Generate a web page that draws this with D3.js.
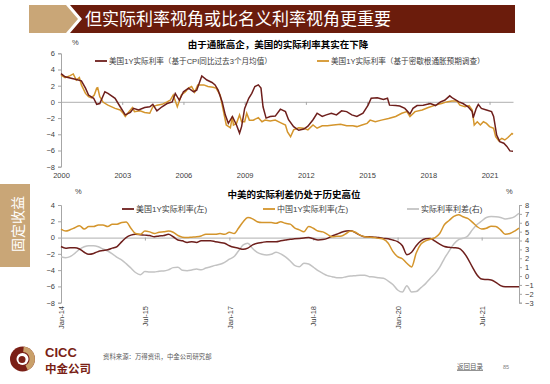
<!DOCTYPE html>
<html>
<head>
<meta charset="utf-8">
<script src="https://cdn.jsdelivr.net/npm/d3@7"></script>
<style>
body{margin:0;background:#fff}
svg{display:block}
text{font-family:"Liberation Sans","Noto Sans CJK SC",sans-serif}
</style>
</head>
<body>
<svg id="chart" width="550" height="384"></svg>
<script>
// 上图：美国1Y实际利率，[年份, %]
const usCpiReal = [[2000.0,3.5],[2000.2,3.1],[2000.7,2.8],[2001.0,2.6],[2001.2,1.7],[2001.35,0.85],[2001.6,0.45],[2001.75,-0.3],[2001.9,-0.2],[2002.15,1.25],[2002.3,1.05],[2002.65,0.45],[2002.9,-0.6],[2003.15,-1.6],[2003.4,-1.3],[2003.55,-0.8],[2003.8,-1.0],[2004.1,-0.7],[2004.35,-0.6],[2004.5,-0.3],[2004.7,-1.1],[2004.95,-0.6],[2005.2,-0.2],[2005.45,0.0],[2005.6,1.05],[2005.8,0.2],[2006.0,1.25],[2006.25,1.7],[2006.5,1.25],[2006.65,1.45],[2006.9,3.2],[2007.15,2.7],[2007.4,2.4],[2007.55,2.1],[2007.7,1.45],[2007.9,0.0],[2008.05,-1.6],[2008.2,-2.65],[2008.4,-1.8],[2008.6,-2.85],[2008.75,-3.85],[2008.85,-3.05],[2009.0,-0.8],[2009.2,0.45],[2009.35,1.05],[2009.5,1.9],[2009.67,2.1],[2009.8,1.7],[2009.9,-0.6],[2010.05,-2.0],[2010.25,-1.8],[2010.5,-1.75],[2010.75,-0.9],[2011.0,-1.2],[2011.15,-2.2],[2011.4,-3.05],[2011.65,-3.5],[2011.9,-3.35],[2012.1,-3.0],[2012.35,-2.2],[2012.55,-1.4],[2012.8,-1.8],[2013.0,-1.6],[2013.25,-1.4],[2013.5,-1.6],[2013.75,-1.1],[2014.0,-1.2],[2014.25,-1.6],[2014.5,-1.8],[2014.8,-1.4],[2015.05,-0.4],[2015.2,0.45],[2015.5,0.5],[2015.8,0.3],[2016.0,0.45],[2016.1,-0.4],[2016.4,-0.45],[2016.6,-0.5],[2016.85,-0.8],[2017.1,-1.5],[2017.25,-0.8],[2017.45,-0.45],[2017.75,-0.4],[2018.1,-0.2],[2018.35,-0.45],[2018.6,0.0],[2018.8,0.2],[2019.05,0.75],[2019.2,0.45],[2019.5,0.0],[2019.7,-0.2],[2019.95,-0.6],[2020.15,-1.2],[2020.2,-1.95],[2020.35,-0.8],[2020.45,-0.3],[2020.6,-0.8],[2020.85,-1.0],[2021.1,-1.2],[2021.2,-1.8],[2021.35,-4.1],[2021.5,-4.9],[2021.7,-5.1],[2021.85,-5.5],[2022.0,-6.05],[2022.15,-6.1]]
const usMichReal = [[2000.0,3.3],[2000.2,3.0],[2000.45,3.25],[2000.6,3.45],[2000.75,2.7],[2000.9,3.0],[2001.0,2.1],[2001.2,1.05],[2001.35,0.65],[2001.5,0.5],[2001.63,0.85],[2001.75,1.7],[2001.8,1.75],[2001.9,0.65],[2002.07,-0.05],[2002.3,-0.4],[2002.65,-0.8],[2002.9,-1.0],[2003.05,-1.4],[2003.15,-1.8],[2003.3,-1.3],[2003.5,-0.7],[2003.6,-1.2],[2003.87,-1.1],[2004.1,-1.3],[2004.35,-1.4],[2004.5,-0.6],[2004.7,-0.4],[2004.95,-0.3],[2005.2,0.0],[2005.35,0.2],[2005.5,0.85],[2005.7,-0.6],[2005.9,0.85],[2006.1,1.25],[2006.25,1.7],[2006.4,1.9],[2006.55,1.2],[2006.7,2.1],[2007.0,2.1],[2007.2,1.9],[2007.45,1.8],[2007.6,1.7],[2007.8,0.85],[2007.95,-1.0],[2008.1,-2.85],[2008.3,-3.2],[2008.4,-1.8],[2008.45,-2.85],[2008.6,-2.65],[2008.75,-1.6],[2008.85,-2.45],[2009.0,-2.45],[2009.1,-1.4],[2009.23,-2.25],[2009.42,-2.25],[2009.67,-1.95],[2009.85,-2.45],[2010.0,-2.25],[2010.25,-2.35],[2010.5,-2.25],[2010.75,-2.55],[2011.0,-2.85],[2011.1,-3.7],[2011.25,-4.3],[2011.4,-3.45],[2011.65,-3.2],[2011.9,-3.25],[2012.1,-3.45],[2012.35,-2.85],[2012.55,-3.25],[2012.8,-2.95],[2013.05,-2.95],[2013.35,-2.85],[2013.7,-2.75],[2014.0,-2.95],[2014.3,-2.95],[2014.5,-3.05],[2014.75,-2.85],[2015.0,-2.65],[2015.15,-2.25],[2015.4,-2.45],[2015.7,-2.25],[2016.05,-2.05],[2016.4,-1.8],[2016.7,-1.4],[2016.95,-1.2],[2017.1,-1.8],[2017.35,-1.2],[2017.7,-1.0],[2018.0,-0.7],[2018.35,-0.4],[2018.65,-0.2],[2018.9,0.0],[2019.15,0.1],[2019.4,0.1],[2019.55,-0.4],[2019.8,-0.6],[2020.0,-0.45],[2020.15,-1.0],[2020.25,-2.85],[2020.4,-2.45],[2020.55,-2.85],[2020.7,-2.45],[2020.85,-2.65],[2021.0,-3.05],[2021.2,-3.25],[2021.3,-4.3],[2021.45,-4.8],[2021.6,-4.5],[2021.75,-4.7],[2021.9,-4.4],[2022.1,-3.9],[2022.15,-4.0]]
const topYears = [2000, 2003, 2006, 2009, 2012, 2015, 2018, 2021]
const topYTicks = [-8, -6, -4, -2, 0, 2, 4, 6]

// 下图：2014-01 起按月
const usReal = [-1.1,-1.3,-1.25,-1.25,-1.4,-1.8,-2.05,-1.95,-1.7,-1.6,-1.5,-1.3,-1.1,-0.5,0.0,0.3,0.4,0.35,0.3,0.25,0.1,0.2,0.25,0.4,0.1,-0.3,-0.4,-0.6,-0.5,-0.6,-0.4,-0.4,-0.4,-0.5,-0.6,-0.7,-1.0,-1.2,-1.3,-1.45,-1.3,-0.9,-0.7,-0.6,-0.5,-0.5,-0.5,-0.4,-0.3,-0.2,-0.15,-0.1,-0.05,0.0,-0.15,-0.3,-0.25,-0.1,0.2,0.4,0.65,0.8,0.85,0.6,0.3,0.1,0.1,0.05,0.0,-0.1,-0.15,-0.3,-0.5,-1.0,-2.1,-1.8,-1.0,-0.4,-0.15,-0.1,-0.45,-0.8,-1.1,-1.2,-1.25,-1.3,-1.7,-2.55,-3.6,-4.6,-5.1,-5.15,-5.2,-5.5,-5.9,-6.05,-6.05,-6.05,-6.05]
const cnReal = [1.05,0.8,0.95,1.2,1.45,1.05,1.35,1.35,1.55,1.55,1.35,1.65,1.65,1.85,1.9,1.15,0.5,0.4,0.8,0.7,0.5,0.65,0.7,0.8,0.65,0.25,0.05,0.0,0.05,0.1,0.2,0.4,0.4,0.4,0.5,0.4,0.65,0.5,1.15,1.95,2.45,2.3,1.95,1.85,1.85,1.85,1.75,1.95,1.75,1.65,1.2,0.95,0.7,1.35,1.15,0.8,0.7,0.4,0.1,0.15,0.2,0.5,0.8,0.65,0.3,0.1,0.05,0.0,-0.1,-0.2,-0.7,-1.7,-2.35,-2.6,-3.15,-3.6,-1.9,-0.8,-0.4,-0.2,0.0,0.5,1.6,2.1,2.6,2.8,2.55,2.35,1.9,1.35,1.05,1.15,1.4,1.35,0.95,0.4,0.5,0.8,1.15]
const spread = [2.18,2.07,2.18,2.56,3.01,3.3,3.42,3.42,3.3,3.05,2.82,2.5,2.1,1.8,1.4,0.9,0.4,0.15,0.5,0.45,0.45,0.55,0.57,0.7,0.95,1.0,0.65,0.6,0.68,0.79,0.7,0.9,1.05,1.2,1.32,1.55,1.9,2.2,2.82,3.5,3.7,3.1,2.67,2.45,2.37,2.45,2.67,2.5,2.15,1.7,1.2,1.05,1.45,1.35,1.0,0.6,0.3,0.05,-0.07,-0.18,-0.18,-0.07,0.0,0.04,0.08,0.1,-0.07,-0.1,-0.2,-0.25,-0.56,-0.95,-1.57,-1.8,-1.1,-1.8,-1.75,-1.3,-0.85,-0.25,0.3,1.0,2.0,2.8,3.6,4.1,4.25,4.5,5.2,5.8,6.2,6.6,6.7,6.68,6.6,6.42,6.5,6.7,7.07]
const botDates = d3.timeMonth.range(new Date(2014, 0, 1), new Date(2022, 3, 1))
const botXTicks = [new Date(2014,0,1), new Date(2015,6,1), new Date(2017,0,1), new Date(2018,6,1), new Date(2020,0,1), new Date(2021,6,1)]
const botLTicks = [-8, -6, -4, -2, 0, 2, 4]
const botRTicks = [-3, -2, -1, 0, 1, 2, 3, 4, 5, 6, 7, 8]

const cRed = "#6e1f1c", cOrange = "#d4952c", cGrey = "#c3c3c3", axisC = "#a6a6a6", labC = "#404040"
const svg = d3.select("#chart")

// 页眉
svg.append("polygon").attr("points", "29,5 66,5 78,19 66,33 29,33").attr("fill", "#c9a677")
svg.append("polygon").attr("points", "70,5 515,5 515,33 70,33 82,19").attr("fill", "#6b1c0c")
svg.append("text").attr("x", 85).attr("y", 25).attr("fill", "#fff").attr("font-size", 17)
    .style("font-family", "Noto Sans CJK SC").text("但实际利率视角或比名义利率视角更重要")

// 左侧标签
svg.append("rect").attr("x", 0).attr("y", 184).attr("width", 30).attr("height", 83).attr("fill", "#c9a677")
svg.append("text").attr("transform", "translate(18,224) rotate(-90)").attr("text-anchor", "middle")
    .attr("dy", "0.35em").attr("fill", "#fff").attr("font-size", 14)
    .style("font-family", "Noto Sans CJK SC").text("固定收益")

function styleAxis(g) {
    g.select(".domain").attr("stroke", axisC)
    g.selectAll(".tick line").attr("stroke", axisC)
    g.selectAll(".tick text").attr("fill", labC).attr("font-size", 7.5)
}

// ---------- 上图 ----------
let xTop = d3.scaleLinear().domain([2000, 2022.15]).range([61, 513])
let yTop = d3.scaleLinear().domain([-8, 6]).range([166.7, 53.3])

svg.append("g").attr("transform", "translate(61,0)")
    .call(d3.axisLeft(yTop).tickValues(topYTicks).tickSize(3).tickPadding(3))
    .call(styleAxis)

svg.append("g").attr("transform", `translate(0,${yTop(0)})`)
    .call(d3.axisBottom(xTop).tickValues(topYears).tickFormat(d3.format("d")).tickSize(3).tickSizeOuter(0))
    .call(styleAxis)
    .call(g => g.select(".domain").attr("stroke", "#bfbfbf").attr("stroke-width", 1.2))
    .call(g => g.selectAll(".tick text").attr("y", yTop(-8) - yTop(0) + 6))

let lineTop = d3.line().x(d => xTop(d[0])).y(d => yTop(d[1]))
svg.append("path").datum(usMichReal).attr("d", lineTop).attr("fill", "none")
    .attr("stroke", cOrange).attr("stroke-width", 1.5)
svg.append("path").datum(usCpiReal).attr("d", lineTop).attr("fill", "none")
    .attr("stroke", cRed).attr("stroke-width", 1.5)

svg.append("text").attr("x", 72).attr("y", 45).attr("font-size", 7.5).attr("fill", labC).text("%")
svg.append("text").attr("x", 278).attr("y", 48).attr("text-anchor", "middle").attr("font-size", 9.5)
    .attr("font-weight", "bold").attr("fill", "#000").text("由于通胀高企，美国的实际利率其实在下降")

let topLegend = [
    {name: "美国1Y实际利率（基于CPI同比过去3个月均值）", color: cRed, x: 95},
    {name: "美国1Y实际利率（基于密歇根通胀预期调查）", color: cOrange, x: 317}
]
topLegend.forEach(d => {
    svg.append("line").attr("x1", d.x).attr("x2", d.x + 12).attr("y1", 61).attr("y2", 61)
        .attr("stroke", d.color).attr("stroke-width", 1.8)
    svg.append("text").attr("x", d.x + 14).attr("y", 61).attr("dy", "0.35em").attr("font-size", 7.6)
        .attr("fill", labC).text(d.name)
})

// ---------- 下图 ----------
let xBot = d3.scaleTime().domain([new Date(2014, 0, 1), new Date(2022, 2, 1)]).range([61, 519])
let yL = d3.scaleLinear().domain([-8, 4]).range([302.7, 205])
let yR = d3.scaleLinear().domain([-3, 8]).range([302.7, 205])

svg.append("g").attr("transform", "translate(61,0)")
    .call(d3.axisLeft(yL).tickValues(botLTicks).tickSize(3).tickPadding(3))
    .call(styleAxis)
svg.append("g").attr("transform", "translate(519,0)")
    .call(d3.axisRight(yR).tickValues(botRTicks).tickSize(3).tickPadding(3))
    .call(styleAxis)

svg.append("g").attr("transform", `translate(0,${yL(0)})`)
    .call(d3.axisBottom(xBot).tickValues(botXTicks).tickFormat(d3.timeFormat("%b-%y")).tickSize(3).tickSizeOuter(0))
    .call(styleAxis)
    .call(g => g.select(".domain").attr("stroke", "#bfbfbf").attr("stroke-width", 1.2))
    .call(g => g.selectAll(".tick text")
        .attr("x", 0).attr("y", 0).attr("dy", "0.35em")
        .attr("text-anchor", "end")
        .attr("transform", `translate(0,${306 - yL(0)}) rotate(-90)`))

let lineL = d3.line().x((d, i) => xBot(botDates[i])).y(d => yL(d)).curve(d3.curveMonotoneX)
let lineR = d3.line().x((d, i) => xBot(botDates[i])).y(d => yR(d)).curve(d3.curveMonotoneX)
svg.append("path").datum(spread).attr("d", lineR).attr("fill", "none").attr("stroke", cGrey).attr("stroke-width", 1.5)
svg.append("path").datum(usReal).attr("d", lineL).attr("fill", "none").attr("stroke", cRed).attr("stroke-width", 1.5)
svg.append("path").datum(cnReal).attr("d", lineL).attr("fill", "none").attr("stroke", cOrange).attr("stroke-width", 1.5)

svg.append("text").attr("x", 75).attr("y", 194).attr("font-size", 7.5).attr("fill", labC).text("%")
svg.append("text").attr("x", 506).attr("y", 194).attr("font-size", 7.5).attr("fill", labC).text("%")
svg.append("text").attr("x", 294).attr("y", 198).attr("text-anchor", "middle").attr("font-size", 9.5)
    .attr("font-weight", "bold").attr("fill", "#000").text("中美的实际利差仍处于历史高位")

let botLegend = [
    {name: "美国1Y实际利率(左)", color: cRed, x: 122},
    {name: "中国1Y实际利率(左)", color: cOrange, x: 263},
    {name: "实际利率利差(右)", color: cGrey, x: 407}
]
botLegend.forEach(d => {
    svg.append("line").attr("x1", d.x).attr("x2", d.x + 12).attr("y1", 209).attr("y2", 209)
        .attr("stroke", d.color).attr("stroke-width", 1.8)
    svg.append("text").attr("x", d.x + 14).attr("y", 209).attr("dy", "0.35em").attr("font-size", 8)
        .attr("fill", labC).text(d.name)
})

// ---------- 页脚 ----------
let logo = svg.append("g").attr("transform", "translate(22.5,359)")
logo.append("circle").attr("r", 12.5).attr("fill", "#7a1f16")
logo.append("path").attr("d", d3.arc().innerRadius(7).outerRadius(12.5).startAngle(0.1).endAngle(2.7)()).attr("fill", "#c9a06a")
logo.append("circle").attr("r", 6).attr("fill", "#fff")
logo.append("circle").attr("cx", -0.5).attr("cy", 0.5).attr("r", 3.5).attr("fill", "#7a1f16")
svg.append("text").attr("x", 45).attr("y", 357).attr("font-size", 13).attr("font-weight", "bold")
    .attr("fill", "#7a1f16").text("CICC")
svg.append("text").attr("x", 45).attr("y", 373).attr("font-size", 11.5).attr("font-weight", "bold")
    .attr("fill", "#7a1f16").style("font-family", "Noto Sans CJK SC").text("中金公司")
svg.append("text").attr("x", 103).attr("y", 359).attr("font-size", 6.4).attr("fill", "#595959").text("资料来源：万得资讯，中金公司研究部")
svg.append("text").attr("x", 457).attr("y", 369).attr("font-size", 6.5).attr("fill", "#595959")
    .attr("text-decoration", "underline").text("返回目录")
svg.append("text").attr("x", 503).attr("y", 369).attr("font-size", 5.5).attr("fill", "#7f7f7f").text("85")
</script>
</body>
</html>
